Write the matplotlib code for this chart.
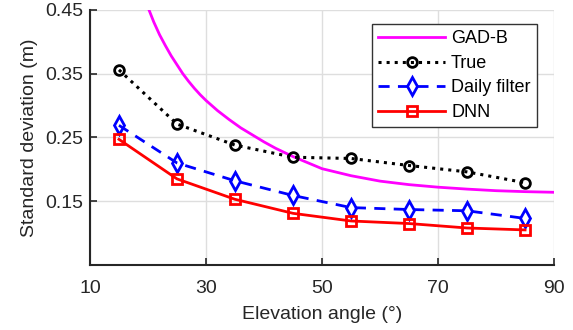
import numpy as np
import matplotlib.pyplot as plt

plt.rcParams['font.family'] = ['Liberation Sans', 'DejaVu Sans']

elev = [15, 25, 35, 45, 55, 65, 75, 85]
true_std = [0.356, 0.271, 0.238, 0.219, 0.217, 0.206, 0.196, 0.179]
daily_std = [0.269, 0.210, 0.182, 0.159, 0.140, 0.137, 0.135, 0.123]
dnn_std = [0.247, 0.185, 0.153, 0.131, 0.119, 0.115, 0.108, 0.105]

# GAD-B curve
gad_elev = [20, 21, 22, 23, 24, 25, 26, 27, 28, 29, 30, 32, 34, 36, 38, 40, 42, 45,
            50, 55, 60, 65, 70, 75, 80, 85, 90]
gad_std = [0.454, 0.431, 0.411, 0.394, 0.378, 0.364, 0.350, 0.338, 0.327, 0.317, 0.308,
           0.292, 0.278, 0.265, 0.254, 0.243, 0.233, 0.220,
           0.201, 0.190, 0.1815, 0.176, 0.172, 0.169, 0.1665, 0.165, 0.164]

fig = plt.figure(figsize=(5.73, 3.3), dpi=100)
ax = fig.add_axes([0.157, 0.197, 0.81, 0.773])

ax.plot(gad_elev, gad_std, color='#ff00ff', lw=2, label='GAD-B')
ax.plot(elev, true_std, color='black', ls=':', lw=2.2, marker='o', ms=7,
        mfc='none', mew=2, label='True')
ax.plot(elev, daily_std, color='blue', ls=(0, (4, 3)), lw=2, marker='d', ms=9,
        mfc='none', mew=2, label='Daily filter')
ax.plot(elev, dnn_std, color='red', lw=2, marker='s', ms=6.5,
        mfc='none', mew=2, label='DNN')

ax.set_xlim(10, 90)
ax.set_ylim(0.05, 0.45)
ax.set_xticks([10, 30, 50, 70, 90])
ax.set_yticks([0.15, 0.25, 0.35, 0.45])
ax.set_yticklabels(['0.15', '0.25', '0.35', '0.45'])
ax.grid(True, color='#dedede', lw=1)
ax.set_axisbelow(True)
for s in ['top', 'right']:
    ax.spines[s].set_visible(False)
for s in ['left', 'bottom']:
    ax.spines[s].set_linewidth(1.5)
    ax.spines[s].set_color('#262626')
ax.tick_params(direction='in', length=5, width=1.2, labelsize=14, colors='#262626')
ax.tick_params(axis='x', pad=11)
ax.tick_params(axis='y', pad=5)

ax.set_xlabel('Elevation angle (°)', fontsize=14, color='#262626', labelpad=6)
ax.set_ylabel('Standard deviation (m)', fontsize=14, color='#262626', labelpad=5)

leg = ax.legend(loc='upper right', bbox_to_anchor=(0.963, 0.945), fontsize=13,
                fancybox=False, framealpha=1, edgecolor='#333333', borderpad=0.35,
                labelspacing=0.42, handlelength=3.7, handletextpad=0.33, borderaxespad=0)
leg.get_frame().set_linewidth(1)

fig.savefig('out.png', dpi=100)
